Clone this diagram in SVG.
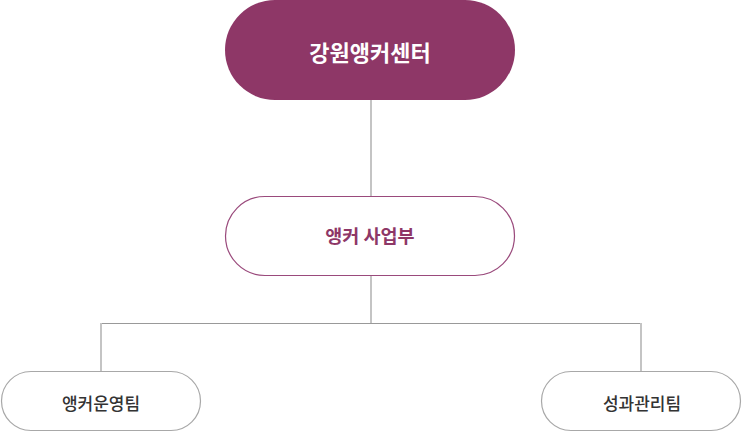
<svg xmlns="http://www.w3.org/2000/svg" width="742" height="433" viewBox="0 0 742 433">
<style>
text{font-family:"Noto Sans CJK KR","Noto Sans",sans-serif;text-anchor:middle;dominant-baseline:central}
.top{fill:#8e3767}
.mid{fill:#fff;stroke:#9a4a7c;stroke-width:1.2}
.leaf{fill:#fff;stroke:#a8a8a8;stroke-width:1.2}
.t1{fill:#fff;font-size:22px;font-weight:700}
.t2{fill:#8e3767;font-size:18.5px;font-weight:700}
.t3{fill:#333;font-size:17px;font-weight:500}
.c{stroke:#c4c4c4;stroke-width:2;fill:none}
.h{stroke:#999;stroke-width:1;fill:none}
</style>
<g id="connectors">
<line class="c" x1="371" y1="100" x2="371" y2="196"/>
<line class="c" x1="371" y1="276" x2="371" y2="323"/>
<line class="h" x1="100" y1="323.5" x2="642" y2="323.5"/>
<line class="c" x1="101" y1="323" x2="101" y2="372"/>
<line class="c" x1="641" y1="323" x2="641" y2="372"/>
</g>
<g id="node-center">
<rect class="top" x="225" y="0" width="290" height="100" rx="50"/>
<text class="t1" x="370" y="51">강원앵커센터</text>
</g>
<g id="node-division">
<rect class="mid" x="225.5" y="196.5" width="289" height="79" rx="39.5"/>
<text class="t2" x="370" y="235">앵커 사업부</text>
</g>
<g id="node-team1">
<rect class="leaf" x="1.5" y="371.5" width="199" height="59" rx="29.5"/>
<text class="t3" x="101" y="402">앵커운영팀</text>
</g>
<g id="node-team2">
<rect class="leaf" x="541.5" y="371.5" width="199" height="59" rx="29.5"/>
<text class="t3" x="642" y="402">성과관리팀</text>
</g>
</svg>
